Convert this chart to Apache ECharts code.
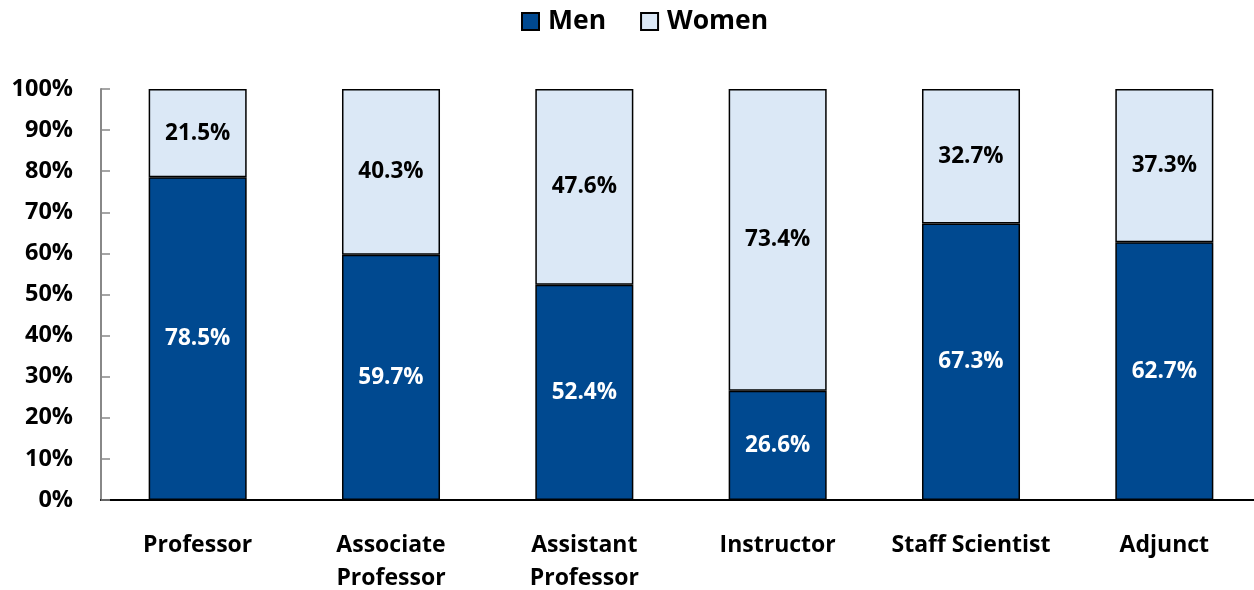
<!DOCTYPE html>
<html>
<head>
<meta charset="utf-8">
<script src="https://cdn.jsdelivr.net/npm/echarts@6/dist/echarts.min.js"></script>
<style>
  html, body { margin: 0; padding: 0; background: #fff; }
  #chart { width: 1254px; height: 590px; }
</style>
</head>
<body>
<div id="chart"></div>
<script>
// 職級類別與男女比例
const categories = ['Professor', 'Associate\nProfessor', 'Assistant\nProfessor', 'Instructor', 'Staff Scientist', 'Adjunct'];
const menValues = [78.5, 59.7, 52.4, 26.6, 67.3, 62.7];
const womenValues = [21.5, 40.3, 47.6, 73.4, 32.7, 37.3];
const yTicks = [0, 10, 20, 30, 40, 50, 60, 70, 80, 90, 100];

const FONT = '"Open Sans", sans-serif';

const chart = echarts.init(document.getElementById('chart'), null, { renderer: 'canvas' });

const labelStyle = (color) => ({
  show: true,
  position: 'inside',
  color: color,
  fontFamily: FONT,
  fontWeight: 'bold',
  fontSize: 22.5,
  formatter: (p) => p.value.toFixed(1) + '%',
});

chart.setOption({
  animation: false,
  legend: {
    top: 8,
    left: 521,
    itemWidth: 17,
    itemHeight: 17,
    itemGap: 34,
    icon: 'rect',
    padding: 0,
    textStyle: { fontFamily: FONT, fontWeight: 'bold', fontSize: 26.5, color: '#000', padding: [0, 0, 0, 4] },
    data: ['Men', 'Women'],
  },
  grid: { left: 101, right: -7, top: 89, bottom: 90, containLabel: false, outerBoundsMode: 'none' },
  xAxis: {
    type: 'category',
    data: categories,
    axisLine: { lineStyle: { color: '#000', width: 2 } },
    axisTick: { show: false },
    axisLabel: {
      interval: 0,
      hideOverlap: false,
      margin: 29,
      color: '#000',
      fontFamily: FONT,
      fontWeight: 'bold',
      fontSize: 23,
      lineHeight: 33,
      verticalAlign: 'top',
    },
  },
  yAxis: {
    type: 'value',
    min: 0,
    max: 100,
    interval: 10,
    axisLine: { show: true, lineStyle: { color: '#888', width: 2 } },
    axisTick: { show: true, inside: true, length: 9, lineStyle: { color: '#888', width: 1.5 } },
    splitLine: { show: false },
    axisLabel: {
      margin: 28,
      color: '#000',
      fontFamily: FONT,
      fontWeight: 'bold',
      fontSize: 23.5,
      formatter: (v) => (yTicks.includes(v) ? v + '%' : ''),
    },
  },
  series: [
    {
      name: 'Men',
      type: 'bar',
      stack: 'total',
      barWidth: '50.7%',
      data: menValues,
      itemStyle: { color: '#004990', borderColor: '#000', borderWidth: 1.5 },
      label: labelStyle('#fff'),
    },
    {
      name: 'Women',
      type: 'bar',
      stack: 'total',
      barWidth: '50.7%',
      data: womenValues,
      itemStyle: { color: '#dbe8f6', borderColor: '#000', borderWidth: 1.5 },
      label: labelStyle('#000'),
    },
  ],
});
</script>
</body>
</html>
